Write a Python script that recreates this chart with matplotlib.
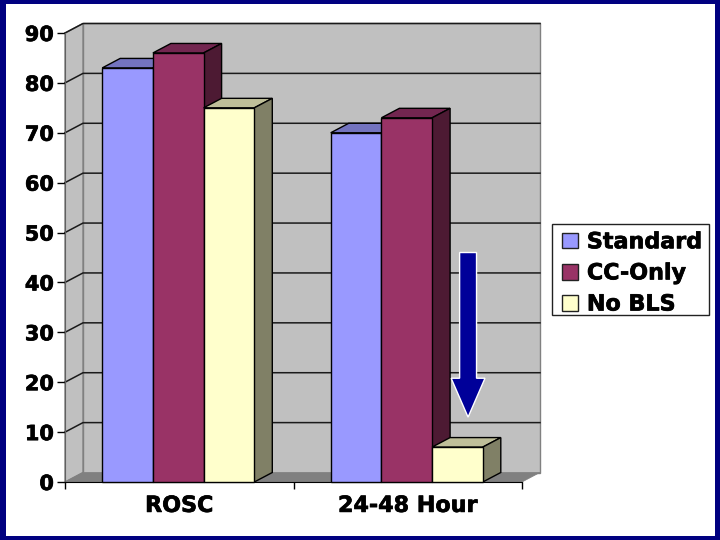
import matplotlib as mpl
mpl.use('Agg')
import matplotlib.pyplot as plt
import matplotlib.patheffects as pe
from matplotlib.patches import Patch, Rectangle

plt.rcParams['font.family'] = 'DejaVu Sans'
plt.rcParams['font.weight'] = 'bold'

categories = ['ROSC', '24-48 Hour']
series = ['Standard', 'CC-Only', 'No BLS']
standard = [83, 70]
cc_only = [86, 73]
no_bls = [75, 7]
yticks = list(range(0, 100, 10))

front_colors = ['#9999FF', '#993366', '#FFFFCC']
top_colors = ['#7373BF', '#732650', '#BFBF99']
side_colors = ['#4D4D80', '#4D1A33', '#808066']
values = [standard, cc_only, no_bls]

W, H = 720, 540
fig = plt.figure(figsize=(7.2, 5.4), dpi=100, facecolor='#000080')
fig.add_artist(Rectangle((6/W, 1-536/H), 709/W, 532/H, transform=fig.transFigure,
                         fc='white', ec='none', zorder=-5))

ax = fig.add_axes([65/W, 1-482/H, 457/W, 449/H])
ax.patch.set_alpha(0)
ax.set_xlim(-0.5, 1.5)
ax.set_ylim(0, 90)

# depth of the fake 3d, in data units
dx = 18/228.5
dy = 9.5/449*90
bar_w = 50.7/228.5
shift = -1/228.5

# walls and floor
x0, x1 = ax.get_xlim()
ax.fill([x0+dx, x1+dx, x1+dx, x0+dx], [dy, dy, 90+dy, 90+dy], fc='#C0C0C0', ec='#808080', lw=1, clip_on=False, zorder=1)
ax.fill([x0, x0+dx, x0+dx, x0], [0, dy, 90+dy, 90], fc='#C0C0C0', ec='#808080', lw=1, clip_on=False, zorder=1)
ax.fill([x0, x1, x1+dx, x0+dx], [0, 0, dy, dy], fc='#808080', ec='#808080', lw=0.5, clip_on=False, zorder=1)

# gridlines run along the back wall and down the left wall
for t in yticks[1:]:
    ax.plot([x0, x0+dx, x1+dx], [t, t+dy, t+dy], color='#1A1A1A', lw=1.1, clip_on=False, zorder=2)

# bars left to right so each one covers the last
for i, vals in enumerate(values):
    for j, v in enumerate(vals):
        left = j + (i-1.5)*bar_w + shift
        right = left + bar_w
        ax.fill([left, right, right+dx, left+dx], [v, v, v+dy, v+dy], fc=top_colors[i], ec='black', lw=1, zorder=3+i)
        ax.fill([right, right+dx, right+dx, right], [0, dy, v+dy, v], fc=side_colors[i], ec='black', lw=1, zorder=3+i)
        ax.bar(left, v, width=bar_w, align='edge', color=front_colors[i], edgecolor='black', lw=1, zorder=3+i, clip_on=False)

# arrow pointing at the No BLS bar
ax.fill([1.227, 1.301, 1.301, 1.338, 1.264, 1.190, 1.227],
        [46, 46, 20.8, 20.8, 13, 20.8, 20.8],
        fc='#000099', ec='white', lw=1, zorder=10)

ax.set_xticks([0, 1], categories)
ax.set_yticks(yticks)
ax.set_xticks([-0.5, 0.5, 1.5], minor=True)
ax.tick_params(axis='x', which='major', length=0, pad=10, labelsize=16)
ax.tick_params(axis='x', which='minor', length=5, width=1, color='black')
ax.tick_params(axis='y', length=6, width=1, color='black', pad=2, labelsize=15)
for s in ['top', 'right']:
    ax.spines[s].set_visible(False)
ax.spines['left'].set_color('#606060')
ax.spines['bottom'].set_color('black')
ax.spines['bottom'].set_zorder(2.5)

# legend frame is drawn apart so the rows can sit tight inside it
fig.add_artist(Rectangle((552/W, 1-315/H), 157/W, 91/H, transform=fig.transFigure,
                         fc='white', ec='#222222', lw=1))
handles = [Patch(fc=c, ec='#222222', lw=1) for c in front_colors]
leg = fig.legend(handles, series, loc='lower left', bbox_to_anchor=(562/W, 1-314.5/H),
                 bbox_transform=fig.transFigure, borderaxespad=0, frameon=False,
                 fontsize=16, handlelength=0.72, handleheight=0.72, handletextpad=0.4,
                 labelspacing=0.5, borderpad=0)

# reference text is heavy, thicken it a little
heavy = [pe.withStroke(linewidth=0.5, foreground='black')]
for t in ax.get_xticklabels() + ax.get_yticklabels() + leg.get_texts():
    t.set_color('black')
    t.set_path_effects(heavy)

fig.savefig('out.png', dpi=100, facecolor=fig.get_facecolor())
